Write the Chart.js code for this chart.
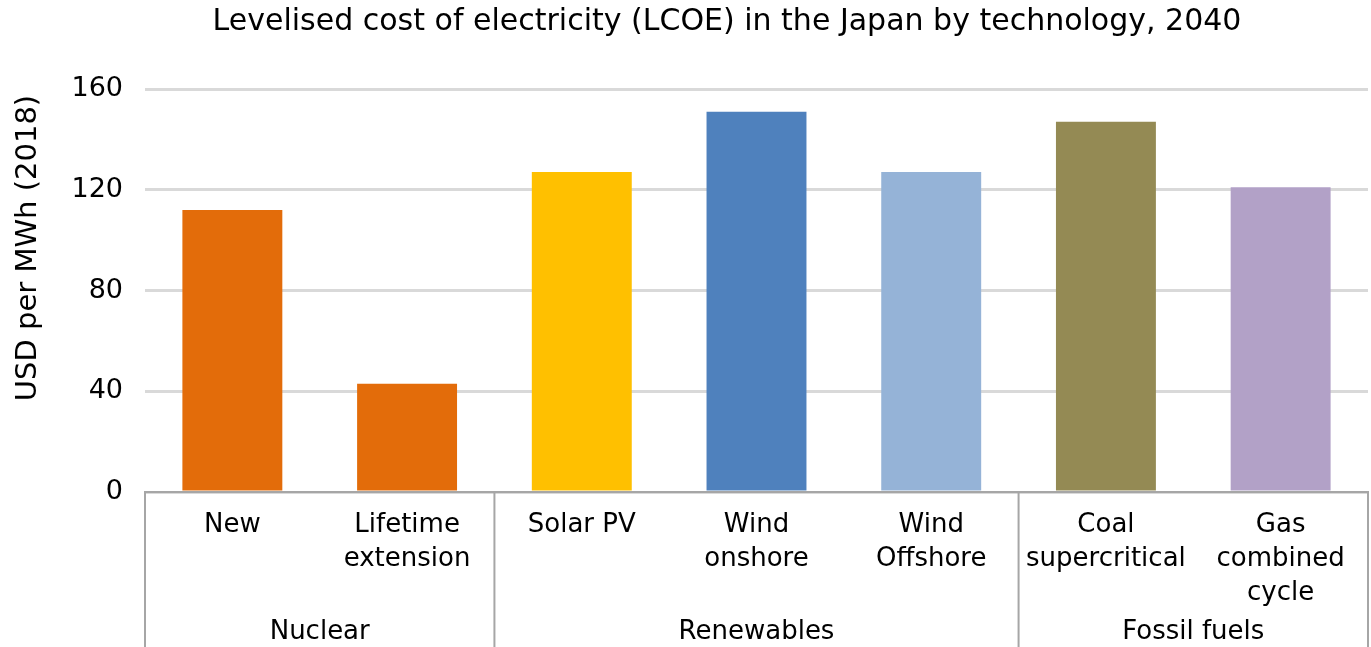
<!DOCTYPE html>
<html>
<head>
<meta charset="utf-8">
<script src="https://cdn.jsdelivr.net/npm/chart.js@4.4.1/dist/chart.umd.min.js"></script>
<style>
  html, body { margin: 0; padding: 0; background: #fff; }
  #wrap { width: 1371px; height: 647px; }
</style>
</head>
<body>
<div id="wrap"><canvas id="lcoe"></canvas></div>
<script>
const chartTitle = "Levelised cost of electricity (LCOE) in the Japan by technology, 2040";
const yTitle = "USD per MWh (2018)";
const techLabels = [
  ["New"],
  ["Lifetime", "extension"],
  ["Solar PV"],
  ["Wind", "onshore"],
  ["Wind", "Offshore"],
  ["Coal", "supercritical"],
  ["Gas", "combined", "cycle"]
];
const groupNames = ["Nuclear", "Renewables", "Fossil fuels"];
const groupSizes = [2, 3, 2];
const lcoe = [112, 43, 127, 151, 127, 147, 121];
const barColors = ["#e36c0a", "#e36c0a", "#ffc000", "#4f81bd", "#95b3d7", "#948a54", "#b2a1c7"];
const yTicks = [0, 40, 80, 120, 160];

const FONT = "'DejaVu Sans', sans-serif";
const AXIS_GREY = "#a6a6a6";

// chart title and rotated y title, drawn by hand to keep their offsets
const titlesPlugin = {
  id: "titles",
  afterDraw(chart) {
    const ctx = chart.ctx;
    ctx.save();
    ctx.fillStyle = "#000";
    ctx.textAlign = "center";
    ctx.textBaseline = "middle";
    ctx.font = "30px " + FONT;
    ctx.fillText(chartTitle, 727, 22);
    ctx.translate(28, 248);
    ctx.rotate(-Math.PI / 2);
    ctx.font = "29px " + FONT;
    ctx.fillText(yTitle, 0, 0);
    ctx.restore();
  }
};

// group separators below the axis + group names
const groupAxisPlugin = {
  id: "groupAxis",
  afterDraw(chart) {
    const ctx = chart.ctx;
    const x = chart.scales.x;
    const area = chart.chartArea;
    const step = x.getPixelForValue(1) - x.getPixelForValue(0);
    const edges = [x.getPixelForValue(0) - step / 2];
    let idx = 0;
    groupSizes.forEach(n => {
      idx += n;
      edges.push(x.getPixelForValue(idx - 1) + step / 2);
    });
    ctx.save();
    ctx.strokeStyle = AXIS_GREY;
    ctx.lineWidth = 2;
    edges.forEach(e => {
      ctx.beginPath();
      ctx.moveTo(e, area.bottom);
      ctx.lineTo(e, chart.height);
      ctx.stroke();
    });
    ctx.font = "26px " + FONT;
    ctx.fillStyle = "#000";
    ctx.textAlign = "center";
    ctx.textBaseline = "middle";
    groupNames.forEach((g, i) => {
      ctx.fillText(g, (edges[i] + edges[i + 1]) / 2, 632);
    });
    ctx.restore();
  }
};

new Chart(document.getElementById("lcoe"), {
  type: "bar",
  data: {
    labels: techLabels,
    datasets: [{
      data: lcoe,
      backgroundColor: barColors,
      borderWidth: 0,
      categoryPercentage: 1,
      barPercentage: 0.572
    }]
  },
  options: {
    responsive: true,
    maintainAspectRatio: false,
    animation: false,
    layout: { padding: { top: 89, right: 3, left: 0, bottom: 0 } },
    plugins: {
      legend: { display: false },
      title: { display: false },
      tooltip: { enabled: false }
    },
    scales: {
      x: {
        grid: { display: false },
        border: { display: true, color: AXIS_GREY, width: 2 },
        ticks: {
          color: "#000",
          font: { family: FONT, size: 26, lineHeight: "34px" },
          padding: 8,
          maxRotation: 0,
          autoSkip: false
        },
        afterFit(scale) { scale.height = 155; }
      },
      y: {
        min: 0,
        max: 160,
        afterBuildTicks(scale) { scale.ticks = yTicks.map(v => ({ value: v })); },
        grid: { color: "#d9d9d9", lineWidth: 3, drawTicks: false },
        border: { display: false },
        ticks: {
          color: "#000",
          font: { family: FONT, size: 27 },
          padding: 22
        },
        afterFit(scale) { scale.width = 145; }
      }
    }
  },
  plugins: [titlesPlugin, groupAxisPlugin]
});
</script>
</body>
</html>
